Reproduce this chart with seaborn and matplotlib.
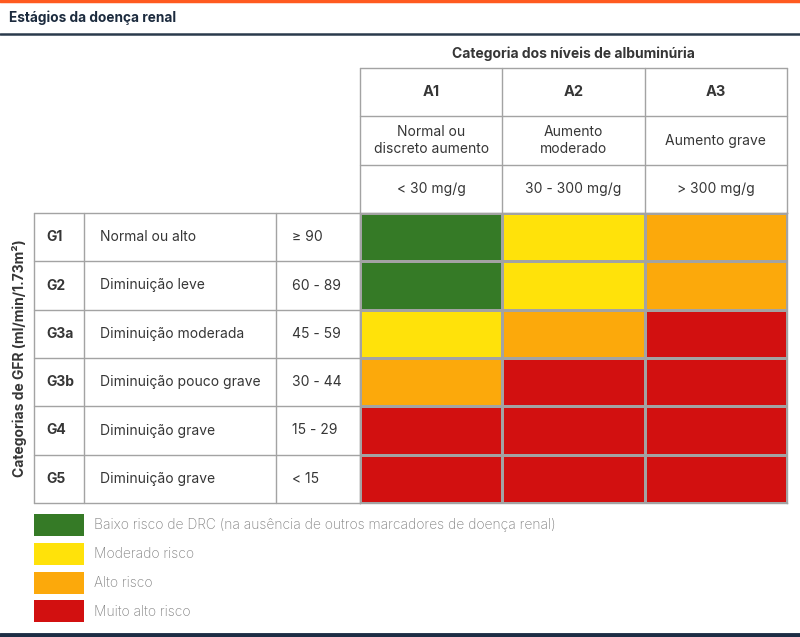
import numpy as np
import pandas as pd
import matplotlib
matplotlib.use("Agg")
import matplotlib.pyplot as plt
import seaborn as sns
from matplotlib.colors import ListedColormap
from matplotlib.patches import Rectangle

# Data
gfr_codes = ["G1", "G2", "G3a", "G3b", "G4", "G5"]
gfr_desc = ["Normal ou alto", "Diminuição leve", "Diminuição moderada",
            "Diminuição pouco grave", "Diminuição grave", "Diminuição grave"]
gfr_range = ["≥ 90", "60 - 89", "45 - 59", "30 - 44", "15 - 29", "< 15"]
alb_codes = ["A1", "A2", "A3"]
alb_desc = ["Normal ou\ndiscreto aumento", "Aumento\nmoderado", "Aumento grave"]
alb_range = ["< 30 mg/g", "30 - 300 mg/g", "> 300 mg/g"]
# risk level: 0 baixo, 1 moderado, 2 alto, 3 muito alto
risk = [[0, 1, 2],
        [0, 1, 2],
        [1, 2, 3],
        [2, 3, 3],
        [3, 3, 3],
        [3, 3, 3]]
risk_labels = ["Baixo risco de DRC (na ausência de outros marcadores de doença renal)",
               "Moderado risco", "Alto risco", "Muito alto risco"]
risk_colors = ["#357A26", "#FFE20A", "#FCA90B", "#D21010"]

sns.set_theme(style="white")
plt.rcParams['font.family'] = ['Inter', 'DejaVu Sans']

W, H = 800, 637
fig = plt.figure(figsize=(8, 6.37), dpi=100)

# overlay axes in pixel coordinates
ov = fig.add_axes([0, 0, 1, 1])
ov.set_xlim(0, W)
ov.set_ylim(H, 0)
ov.axis("off")

grid_c = "#a3a3a3"
txt_c = "#363636"

# header bars
ov.axhline(1.2, color="#FF5A1F", lw=2.5)
ov.text(9, 18, "Estágios da doença renal", fontsize=9.8, fontweight="bold",
        color="#1c2b3e", va="center", ha="left")
ov.axhline(33.5, color="#2a3a4c", lw=1.8)
ov.axhline(635, color="#1d2d44", lw=3.5)

# heatmap region
x0, x1 = 360, 787
y0, y1 = 213, 503
hm = pd.DataFrame(risk, index=gfr_codes, columns=alb_codes)
ax = fig.add_axes([x0 / W, 1 - y1 / H, (x1 - x0) / W, (y1 - y0) / H])
sns.heatmap(hm, ax=ax, cmap=ListedColormap(risk_colors), vmin=-0.5, vmax=3.5,
            cbar=False, linewidths=1, linecolor=grid_c,
            xticklabels=False, yticklabels=False)
ax.set_xlabel("")
ax.set_ylabel("")
for s in ax.spines.values():
    s.set_visible(True)
    s.set_color(grid_c)
    s.set_linewidth(1)

# header table above heatmap
col_w = (x1 - x0) / len(alb_codes)
hy = [68, 116, 165, 213]
for yy in hy:
    ov.plot([x0, x1], [yy, yy], color=grid_c, lw=1)
for i in range(len(alb_codes) + 1):
    ov.plot([x0 + i * col_w] * 2, [hy[0], hy[-1]], color=grid_c, lw=1)
for i in range(len(alb_codes)):
    cx = x0 + (i + 0.5) * col_w
    ov.text(cx, (hy[0] + hy[1]) / 2, alb_codes[i], ha="center", va="center",
            fontsize=10.5, fontweight="bold", color=txt_c)
    ov.text(cx, (hy[1] + hy[2]) / 2, alb_desc[i], ha="center", va="center",
            fontsize=10, color=txt_c, linespacing=1.3)
    ov.text(cx, (hy[2] + hy[3]) / 2, alb_range[i], ha="center", va="center",
            fontsize=10, color=txt_c)
ov.text((x0 + x1) / 2, 54, "Categoria dos níveis de albuminúria", ha="center",
        va="center", fontsize=10, fontweight="bold", color=txt_c)

# left table
lx = [34, 84, 276, 360]
row_h = (y1 - y0) / len(gfr_codes)
for i in range(len(gfr_codes) + 1):
    ov.plot([lx[0], lx[-1]], [y0 + i * row_h] * 2, color=grid_c, lw=1)
for xx in lx:
    ov.plot([xx, xx], [y0, y1], color=grid_c, lw=1)
for i in range(len(gfr_codes)):
    cy = y0 + (i + 0.5) * row_h
    ov.text(46, cy, gfr_codes[i], ha="left", va="center", fontsize=10,
            fontweight="bold", color=txt_c)
    ov.text(100, cy, gfr_desc[i], ha="left", va="center", fontsize=10, color=txt_c)
    ov.text(292, cy, gfr_range[i], ha="left", va="center", fontsize=10, color=txt_c)
ov.text(20, (y0 + y1) / 2, "Categorias de GFR (ml/min/1.73m²)", rotation=90,
        ha="center", va="center", fontsize=10, fontweight="bold", color=txt_c)

# legend
ly, lh, lpitch = 514, 22, 28.8
for i, (lab, c) in enumerate(zip(risk_labels, risk_colors)):
    top = ly + i * lpitch
    ov.add_patch(Rectangle((34, top), 50, lh, facecolor=c, edgecolor="none"))
    ov.text(94, top + lh / 2, lab, ha="left", va="center", fontsize=9.95,
            fontweight="light", color="#848484")

fig.savefig("out.png", dpi=100)
